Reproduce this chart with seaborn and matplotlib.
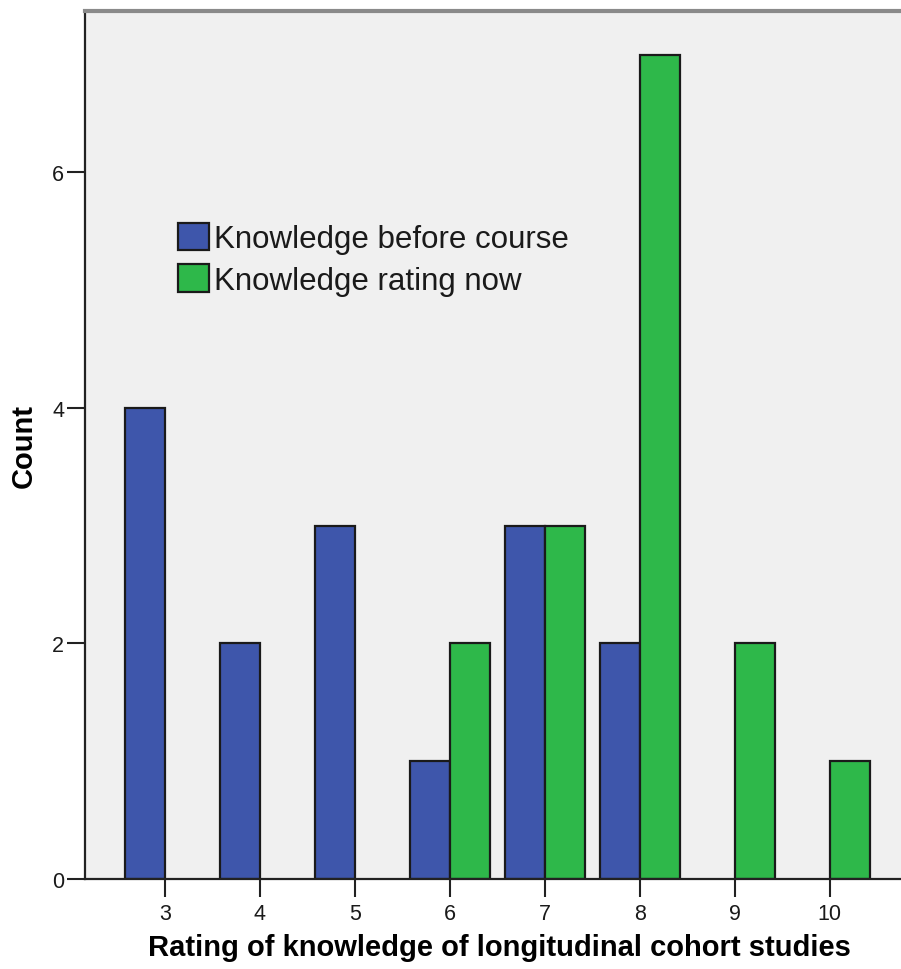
import matplotlib
matplotlib.use("Agg")
import matplotlib.pyplot as plt
from matplotlib.patches import Patch
import seaborn as sns
import pandas as pd

ratings = [3, 4, 5, 6, 7, 8, 9, 10]
before_counts = [4, 2, 3, 1, 3, 2, 0, 0]
now_counts = [0, 0, 0, 2, 3, 7, 2, 1]
series_names = ["Knowledge before course", "Knowledge rating now"]
colors = ["#3E56AB", "#2EB84A"]

df = pd.DataFrame({
    "rating": [str(r) for r in ratings] * 2,
    "count": before_counts + now_counts,
    "series": [series_names[0]] * len(ratings) + [series_names[1]] * len(ratings),
})

sns.set_style("white")
plt.rcParams["font.family"] = ["Liberation Sans", "DejaVu Sans"]
plt.rcParams["text.color"] = "black"

fig = plt.figure(figsize=(9.01, 9.70), dpi=100)
ax = fig.add_axes([85 / 901, 90 / 970, 816 / 901, 868 / 970])
ax.set_facecolor("#F0F0F0")

sns.barplot(data=df, x="rating", y="count", hue="series", order=[str(r) for r in ratings],
            hue_order=series_names, palette=colors, width=0.84, dodge=True,
            edgecolor="#1a1a1a", linewidth=1.6, saturation=1, ax=ax, legend=False)

# hide zero-height bars
for p in ax.patches:
    if p.get_height() == 0:
        p.set_visible(False)

ax.set_xlim(-0.84, 7.75)
ax.set_ylim(0, 7.37)
ax.set_yticks([0, 2, 4, 6])
ax.set_xlabel("Rating of knowledge of longitudinal cohort studies", fontsize=21, fontweight="bold",
              labelpad=7, color="black")
ax.xaxis.label.set_x(0.508)
ax.set_ylabel("Count", fontsize=21, fontweight="bold", labelpad=10, color="black")
ax.tick_params(axis="x", length=13, width=1.5, color="#222222", labelsize=15.5, pad=4,
               direction="out", bottom=True, labelcolor="#1a1a1a")
ax.tick_params(axis="y", length=13, width=1.5, color="#222222", labelsize=15.5, pad=2,
               direction="out", left=True, labelcolor="#1a1a1a")

for side in ["left", "bottom"]:
    ax.spines[side].set_color("#222222")
    ax.spines[side].set_linewidth(1.6)
ax.spines["top"].set_color("#8a8a8a")
ax.spines["top"].set_linewidth(3)
ax.spines["right"].set_visible(False)

handles = [Patch(facecolor=c, edgecolor="#1a1a1a", linewidth=1.6, label=n)
           for c, n in zip(colors, series_names)]
ax.legend(handles=handles, loc="upper left", bbox_to_anchor=(0.114, 0.756), frameon=False,
          fontsize=22.5, handlelength=0.98, handleheight=0.98, handletextpad=0.18,
          labelspacing=0.32, borderaxespad=0, borderpad=0, labelcolor="#1a1a1a")

fig.savefig("out.png", dpi=100)
